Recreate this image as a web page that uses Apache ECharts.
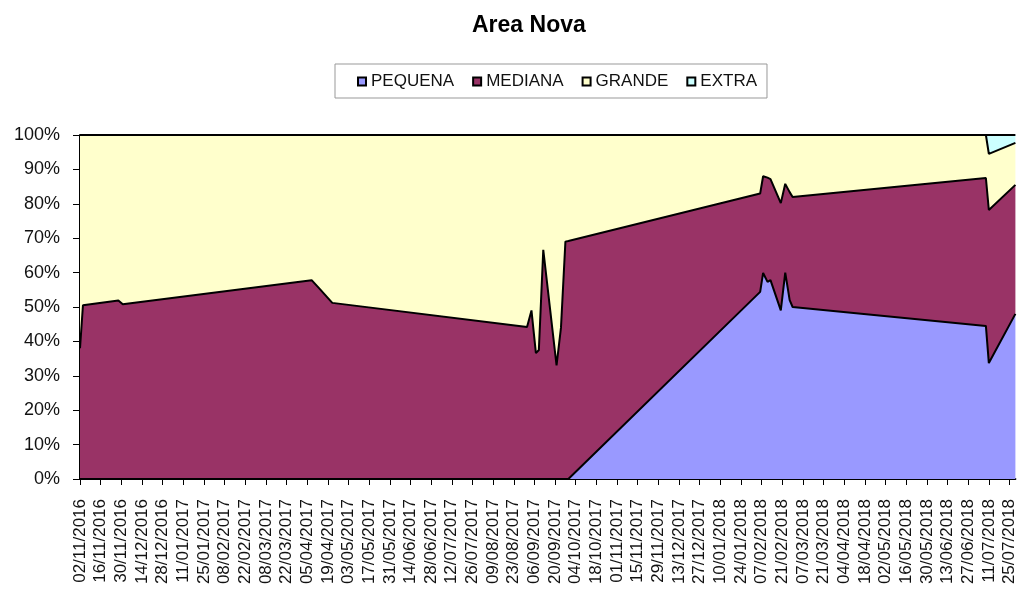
<!DOCTYPE html>
<html>
<head>
<meta charset="utf-8">
<script src="https://cdn.jsdelivr.net/npm/echarts@6/dist/echarts.min.js"></script>
<style>
html,body{margin:0;padding:0;background:#fff;}
#chart{width:1018px;height:592px;}
</style>
</head>
<body>
<div id="chart"></div>
<script>
// ---- data ----
var dates = ['2016-11-02','2016-11-04','2016-11-28','2016-12-01','2017-04-08','2017-04-13','2017-04-22',
  '2017-09-01','2017-09-04','2017-09-07','2017-09-09','2017-09-12','2017-09-21','2017-09-24','2017-09-27','2017-09-29',
  '2018-02-06','2018-02-08','2018-02-11','2018-02-13','2018-02-20','2018-02-23','2018-02-26','2018-02-28',
  '2018-07-09','2018-07-11','2018-07-29'];
var pequena = [0,0,0,0,0,0,0, 0,0,0,0,0,0,0,0,0, 54.4,59.9,57.3,57.8,49,60,52,50, 44.5,33.7,48];
var mediana = [38,50.5,51.9,50.8,57.8,55.5,51.2, 44.2,49,36.6,37.5,66.6,33,44,69,69.2, 28.6,28.1,30.3,29.4,31.2,25.8,31.4,32, 43,44.5,37.5];
var grande  = [62,49.5,48.1,49.2,42.2,44.5,48.8, 55.8,51,63.4,62.5,33.4,67,56,31,30.8, 17,12,12.4,12.8,19.8,14.2,16.6,18, 12.5,16.3,12.2];
var extra   = [0,0,0,0,0,0,0, 0,0,0,0,0,0,0,0,0, 0,0,0,0,0,0,0,0, 0,5.5,2.3];
var seriesNames = ['PEQUENA','MEDIANA','GRANDE','EXTRA'];
var tickLabels = ['02/11/2016','16/11/2016','30/11/2016','14/12/2016','28/12/2016','11/01/2017','25/01/2017',
  '08/02/2017','22/02/2017','08/03/2017','22/03/2017','05/04/2017','19/04/2017','03/05/2017','17/05/2017',
  '31/05/2017','14/06/2017','28/06/2017','12/07/2017','26/07/2017','09/08/2017','23/08/2017','06/09/2017',
  '20/09/2017','04/10/2017','18/10/2017','01/11/2017','15/11/2017','29/11/2017','13/12/2017','27/12/2017',
  '10/01/2018','24/01/2018','07/02/2018','21/02/2018','07/03/2018','21/03/2018','04/04/2018','18/04/2018',
  '02/05/2018','16/05/2018','30/05/2018','13/06/2018','27/06/2018','11/07/2018','25/07/2018'];
var startDate = '2016-11-02';
var endDate = '2018-07-29';

// ---- helpers ----
function dayIndex(s){
  var p = s.split('-'), q = startDate.split('-');
  return Math.round((Date.UTC(+p[0], +p[1]-1, +p[2]) - Date.UTC(+q[0], +q[1]-1, +q[2])) / 86400000);
}
// value first so that the stack is applied on the value (y) dimension
function pairs(vals){ return dates.map(function(d,i){ return [vals[i], dayIndex(d)]; }); }

var colors = ['#9999FF','#993366','#FFFFCC','#CCFFFF'];
var values = [pequena, mediana, grande, extra];
var FONT = '"Liberation Sans", Arial, sans-serif';

var series = seriesNames.map(function(n,i){
  return {
    name: n, type: 'line', stack: 'total', data: pairs(values[i]),
    encode: {x: 1, y: 0},
    showSymbol: false, symbol: 'none',
    lineStyle: {color: '#000', width: 2},
    areaStyle: {color: colors[i], opacity: 1},
    itemStyle: {color: colors[i], borderColor: '#000', borderWidth: 1},
    emphasis: {disabled: true},
    z: 2
  };
});

var chart = echarts.init(document.getElementById('chart'), null, {renderer: 'canvas'});
chart.setOption({
  animation: false,
  backgroundColor: '#fff',
  title: {
    text: 'Area Nova', left: 467, top: 9,
    textStyle: {fontFamily: FONT, fontSize: 23, fontWeight: 'bold', color: '#000'}
  },
  legend: {
    data: seriesNames, left: 335, top: 64,
    icon: 'rect', itemWidth: 8, itemHeight: 8, itemGap: 18,
    padding: [9, 10, 8, 22],
    borderColor: '#999', borderWidth: 1,
    textStyle: {fontFamily: FONT, fontSize: 17, color: '#111'},
    selectedMode: false
  },
  grid: {left: 80, right: 0, top: 135, bottom: 113, containLabel: false},
  xAxis: {
    type: 'value', min: 0, max: dayIndex(endDate), interval: 14,
    axisLine: {show: true, onZero: false, lineStyle: {color: '#000', width: 2}},
    axisTick: {show: true, length: 6, lineStyle: {color: '#000', width: 1}},
    splitLine: {show: false},
    axisLabel: {
      rotate: 90, margin: 20, fontFamily: FONT, fontSize: 17, color: '#111',
      showMaxLabel: false,
      formatter: function(v){ var k = Math.round(v/14); return (Math.abs(v - k*14) < 0.01 && tickLabels[k]) ? tickLabels[k] : ''; }
    }
  },
  yAxis: {
    type: 'value', min: 0, max: 100, interval: 10,
    axisLine: {show: true, lineStyle: {color: '#000', width: 2}},
    axisTick: {show: true, length: 7, lineStyle: {color: '#000', width: 1}},
    splitLine: {show: false},
    axisLabel: {margin: 20, fontFamily: FONT, fontSize: 18, color: '#111', formatter: '{value}%'}
  },
  series: series
});
</script>
</body>
</html>
